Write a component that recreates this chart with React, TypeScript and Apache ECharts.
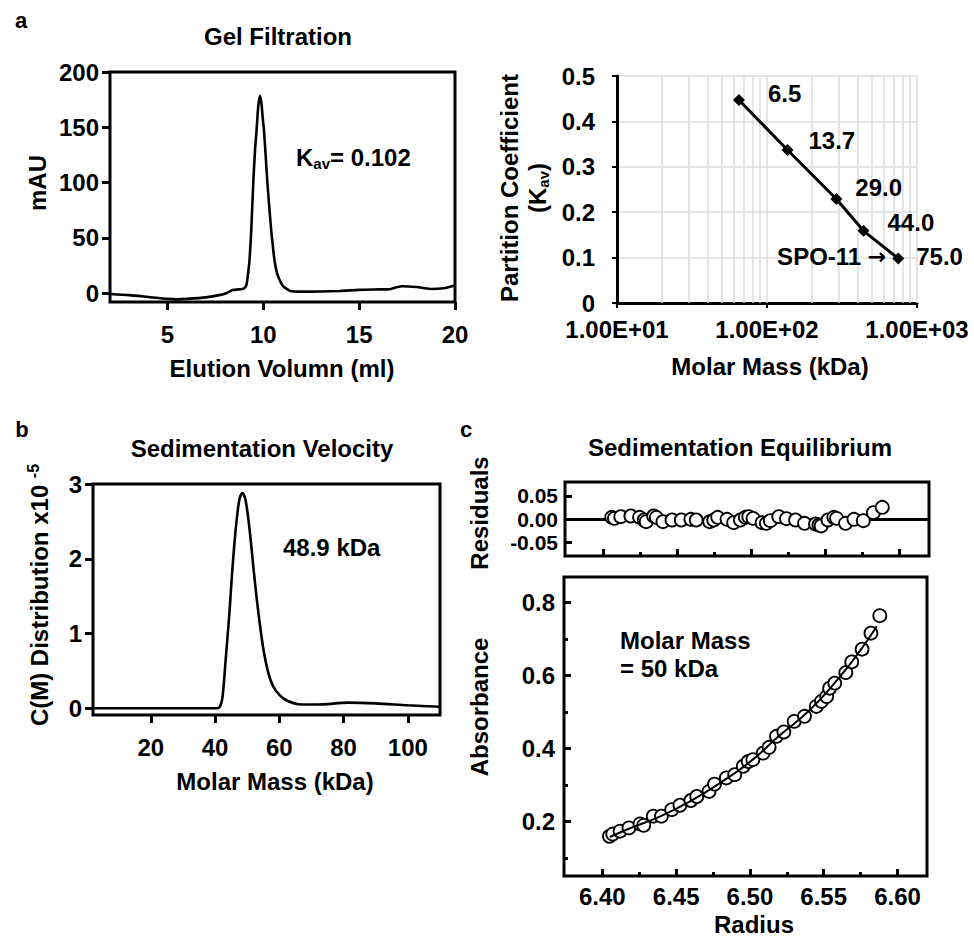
import React, { useEffect, useRef } from "react";
import * as echarts from "echarts";

const FONT = "'Liberation Sans', Arial, Helvetica, sans-serif";

// ---------- Panel a (left): Gel filtration ----------
const gelVolume = [2, 3, 4, 5, 5.5, 6, 7, 7.7, 8.1, 8.4, 8.9, 9.0, 9.1, 9.16, 9.22, 9.28, 9.37, 9.48, 9.57, 9.65, 9.73, 9.82, 9.9, 9.97, 10.03, 10.12, 10.2, 10.3, 10.41, 10.5, 10.58, 10.7, 10.85, 11.0, 11.16, 11.4, 12, 13, 14, 15, 16, 16.6, 17.2, 18, 18.7, 19.4, 20];
const gelMAU = [-0.7, -1.8, -3.5, -5.2, -5.6, -5.2, -3.8, -1.8, 0.2, 2.8, 3.8, 4.5, 6.5, 11.8, 20, 30, 57, 102, 130, 148, 168, 178.5, 172, 158, 148, 125, 103, 80, 57, 42, 30, 19, 11.8, 7, 4.5, 2, 1.4, 1.5, 2, 3, 3.4, 3.6, 6.3, 5.5, 3.8, 4.5, 7];
const gelXTicks = [5, 10, 15, 20];
const gelYTicks = [0, 50, 100, 150, 200];

// ---------- Panel a (right): calibration ----------
const kavMass = [65, 137, 290, 440, 750];
const kavValue = [0.447, 0.337, 0.229, 0.159, 0.098];
const kavLabels = ["6.5", "13.7", "29.0", "44.0", "75.0"];
const kavXTickLabels = ["1.00E+01", "1.00E+02", "1.00E+03"];
const kavGridMasses = [20, 30, 40, 50, 60, 70, 80, 90, 100, 200, 300, 400, 500, 600, 700, 800, 900, 1000];

// ---------- Panel b: Sedimentation velocity ----------
const svMass = [2, 20, 40, 41, 41.5, 42.2, 42.7, 43.2, 43.8, 44.5, 45.2, 46, 46.8, 47.6, 48.5, 49.4, 50.3, 51.2, 52, 53, 54, 55, 56.4, 58, 60, 62.5, 66.8, 72, 81.4, 90, 100, 110];
const svC = [0, 0, 0, 0.005, 0.02, 0.12, 0.32, 0.6, 0.92, 1.3, 1.75, 2.2, 2.55, 2.8, 2.88, 2.8, 2.55, 2.2, 1.85, 1.45, 1.1, 0.8, 0.5, 0.3, 0.18, 0.1, 0.05, 0.05, 0.075, 0.065, 0.04, 0.02];
const svXTicks = [20, 40, 60, 80, 100];
const svYTicks = [0, 1, 2, 3];

// ---------- Panel c: Sedimentation equilibrium ----------
const absRadius = [6.4048, 6.407, 6.412, 6.418, 6.4255, 6.428, 6.4345, 6.44, 6.447, 6.4526, 6.46, 6.464, 6.4723, 6.476, 6.484, 6.4897, 6.4955, 6.4989, 6.502, 6.509, 6.513, 6.518, 6.523, 6.53, 6.537, 6.545, 6.5485, 6.552, 6.554, 6.5575, 6.565, 6.569, 6.576, 6.582, 6.588];
const absValue = [0.159, 0.165, 0.173, 0.182, 0.193, 0.189, 0.214, 0.214, 0.232, 0.244, 0.257, 0.268, 0.282, 0.302, 0.319, 0.328, 0.351, 0.364, 0.369, 0.387, 0.403, 0.433, 0.445, 0.474, 0.488, 0.515, 0.529, 0.542, 0.565, 0.579, 0.608, 0.637, 0.672, 0.716, 0.764];
const fitRadius = [6.405, 6.42, 6.44, 6.46, 6.48, 6.5, 6.52, 6.54, 6.56, 6.575, 6.586];
const fitValue = [0.157, 0.183, 0.215, 0.256, 0.306, 0.363, 0.435, 0.503, 0.592, 0.67, 0.735];
const residRadius = [6.4056, 6.4074, 6.4117, 6.4185, 6.4244, 6.4275, 6.4289, 6.4339, 6.4357, 6.4402, 6.4463, 6.4526, 6.4591, 6.4627, 6.4718, 6.4745, 6.4772, 6.4835, 6.488, 6.4925, 6.4959, 6.4982, 6.5011, 6.5072, 6.5101, 6.5128, 6.5185, 6.5237, 6.5298, 6.5359, 6.5433, 6.5456, 6.5471, 6.5517, 6.5557, 6.5575, 6.5636, 6.5693, 6.5756, 6.5824, 6.5884];
const residValue = [0.0036, 0.0014, 0.005, 0.0065, 0.0036, -0.0022, -0.0058, 0.0065, 0.0036, -0.0058, -0.0022, -0.0022, -0.0007, -0.0022, -0.0058, -0.0022, 0.0036, -0.0007, -0.0079, -0.0022, 0.0036, 0.005, 0.0014, -0.0079, -0.0094, -0.0036, 0.005, 0.0007, -0.0022, -0.0094, -0.0108, -0.013, -0.015, -0.0022, 0.0036, 0.0014, -0.0094, -0.0007, -0.0036, 0.0137, 0.0252];
const radiusMajor = [6.4, 6.45, 6.5, 6.55, 6.6];
const radiusMinor = [6.425, 6.475, 6.525, 6.575];
const residTicks = [-0.05, 0, 0.05];
const absMajor = [0.2, 0.4, 0.6, 0.8];
const absMinor = [0.1, 0.3, 0.5, 0.7];

const zip = (a: number[], b: number[]) => a.map((v, i) => [v, b[i]]);

const labelStyle = { color: "#000", fontFamily: FONT, fontWeight: "bold" as const, fontSize: 24, textBorderWidth: 0 };
const residLabelStyle = { ...labelStyle, fontSize: 21, lineHeight: 21 };
const tickLine = { color: "#000", width: 3 };

function txt(x: number, y: number, text: string, opts: any = {}) {
  return {
    type: "text",
    x,
    y,
    rotation: opts.rotation || 0,
    style: {
      text,
      fill: "#000",
      fontFamily: FONT,
      fontWeight: "bold",
      fontSize: opts.fontSize || 24,
      align: opts.align || "center",
      verticalAlign: "middle",
      rich: opts.rich,
    },
  };
}

function buildOption(): any {
  const RMIN = 6.374;
  const RMAX = 6.62;
  const boxed = { show: true, borderColor: "#000", borderWidth: 3, backgroundColor: "transparent", outerBoundsMode: "none" };

  const richSub = {
    k: { fontFamily: FONT, fontWeight: "bold", fontSize: 24, lineHeight: 28, color: "#000" },
    s: { fontFamily: FONT, fontWeight: "bold", fontSize: 15, lineHeight: 14, verticalAlign: "bottom", color: "#000" },
  };
  const richSup = {
    k: { fontFamily: FONT, fontWeight: "bold", fontSize: 24, lineHeight: 28, color: "#000" },
    p: { fontFamily: FONT, fontWeight: "bold", fontSize: 16, lineHeight: 14, verticalAlign: "top", color: "#000" },
  };

  // one axis per residual label, so that the tightly packed labels are all kept
  const residLabelAxis = (v: number) => ({
    gridIndex: 3, type: "value", min: -0.08, max: 0.08, position: "left",
    axisLine: { show: false, onZero: false },
    axisTick: { show: false },
    axisLabel: { ...residLabelStyle, customValues: [v], margin: 7, formatter: (x: number) => x.toFixed(2) },
    splitLine: { show: false },
  });

  return {
    animation: false,
    backgroundColor: "#fff",
    grid: [
      { left: 110, top: 72, width: 345, height: 230, ...boxed },
      { left: 617, top: 76, width: 300, height: 227, show: false, outerBoundsMode: "none" },
      { left: 93, top: 484, width: 347, height: 231, ...boxed },
      { left: 565, top: 482, width: 364, height: 74, ...boxed },
      { left: 564, top: 577, width: 363, height: 299, ...boxed },
    ],
    xAxis: [
      {
        gridIndex: 0, type: "value", min: 2, max: 20,
        axisLine: { show: false, onZero: false },
        axisTick: { show: true, customValues: gelXTicks, length: 8, lineStyle: tickLine },
        axisLabel: { ...labelStyle, customValues: gelXTicks, margin: 20 },
        splitLine: { show: false },
      },
      {
        gridIndex: 1, type: "log", logBase: 10, min: 10, max: 1000,
        axisLine: { show: true, onZero: false, lineStyle: tickLine },
        axisTick: { show: true, length: 5, lineStyle: { color: "#000", width: 2 } },
        axisLabel: {
          ...labelStyle, margin: 14,
          formatter: (v: number) => kavXTickLabels[Math.round(Math.log10(v)) - 1] || "",
        },
        splitLine: { show: false },
      },
      {
        gridIndex: 2, type: "value", min: 2, max: 110,
        axisLine: { show: false, onZero: false },
        axisTick: { show: true, customValues: svXTicks, length: 8, lineStyle: tickLine },
        axisLabel: { ...labelStyle, customValues: svXTicks, margin: 20 },
        splitLine: { show: false },
      },
      {
        gridIndex: 3, type: "value", min: RMIN, max: RMAX, position: "bottom",
        axisLine: { show: false, onZero: false },
        axisTick: { show: true, inside: true, customValues: radiusMajor, length: 7, lineStyle: tickLine },
        axisLabel: { show: false },
        splitLine: { show: false },
      },
      {
        gridIndex: 3, type: "value", min: RMIN, max: RMAX, position: "bottom",
        axisLine: { show: false, onZero: false },
        axisTick: { show: true, inside: true, customValues: radiusMinor, length: 4, lineStyle: tickLine },
        axisLabel: { show: false },
        splitLine: { show: false },
      },
      {
        gridIndex: 4, type: "value", min: RMIN, max: RMAX, position: "bottom",
        axisLine: { show: false, onZero: false },
        axisTick: { show: true, inside: true, customValues: radiusMajor, length: 7, lineStyle: tickLine },
        axisLabel: { ...labelStyle, customValues: radiusMajor, margin: 8, formatter: (v: number) => v.toFixed(2) },
        splitLine: { show: false },
      },
      {
        gridIndex: 4, type: "value", min: RMIN, max: RMAX, position: "bottom",
        axisLine: { show: false, onZero: false },
        axisTick: { show: true, inside: true, customValues: radiusMinor, length: 4, lineStyle: tickLine },
        axisLabel: { show: false },
        splitLine: { show: false },
      },
    ],
    yAxis: [
      {
        gridIndex: 0, type: "value", min: -8, max: 200,
        axisLine: { show: false, onZero: false },
        axisTick: { show: true, customValues: gelYTicks, length: 8, lineStyle: tickLine },
        axisLabel: { ...labelStyle, customValues: gelYTicks, margin: 11 },
        splitLine: { show: false },
      },
      {
        gridIndex: 1, type: "value", min: 0, max: 0.5, interval: 0.1,
        axisLine: { show: true, onZero: false, lineStyle: tickLine },
        axisTick: { show: true, length: 5, lineStyle: { color: "#000", width: 2 } },
        axisLabel: { ...labelStyle, margin: 22 },
        splitLine: { show: true, lineStyle: { color: "#dcdcdc", width: 1.5 } },
      },
      {
        gridIndex: 2, type: "value", min: -0.09, max: 3,
        axisLine: { show: false, onZero: false },
        axisTick: { show: true, customValues: svYTicks, length: 8, lineStyle: tickLine },
        axisLabel: { ...labelStyle, customValues: svYTicks, margin: 11 },
        splitLine: { show: false },
      },
      {
        gridIndex: 3, type: "value", min: -0.08, max: 0.08,
        axisLine: { show: false, onZero: false },
        axisTick: { show: true, inside: true, customValues: residTicks, length: 7, lineStyle: tickLine },
        axisLabel: { ...residLabelStyle, customValues: [residTicks[1]], margin: 7, formatter: (v: number) => v.toFixed(2) },
        splitLine: { show: false },
      },
      {
        gridIndex: 4, type: "value", min: 0.05, max: 0.87,
        axisLine: { show: false, onZero: false },
        axisTick: { show: true, inside: true, customValues: absMajor, length: 7, lineStyle: tickLine },
        axisLabel: { ...labelStyle, customValues: absMajor, margin: 9, formatter: (v: number) => v.toFixed(1) },
        splitLine: { show: false },
      },
      {
        gridIndex: 4, type: "value", min: 0.05, max: 0.87, position: "left",
        axisLine: { show: false, onZero: false },
        axisTick: { show: true, inside: true, customValues: absMinor, length: 4, lineStyle: tickLine },
        axisLabel: { show: false },
        splitLine: { show: false },
      },
      residLabelAxis(residTicks[2]),
      residLabelAxis(residTicks[0]),
    ],
    series: [
      {
        type: "line", xAxisIndex: 0, yAxisIndex: 0,
        data: zip(gelVolume, gelMAU),
        showSymbol: false, smooth: 0.2,
        lineStyle: { color: "#000", width: 2.6 },
        silent: true, z: 3,
      },
      {
        type: "line", xAxisIndex: 1, yAxisIndex: 1,
        data: zip(kavMass, kavValue),
        showSymbol: false, lineStyle: { opacity: 0 }, silent: true, z: 1,
        markLine: {
          z: 1, silent: true, symbol: "none", label: { show: false },
          lineStyle: { color: "#dcdcdc", width: 1.5, type: "solid" },
          data: kavGridMasses.map((m) => ({ xAxis: m })),
        },
      },
      {
        type: "line", xAxisIndex: 1, yAxisIndex: 1,
        data: zip(kavMass, kavValue),
        symbol: "diamond", symbolSize: 12,
        itemStyle: { color: "#000", opacity: 1 },
        lineStyle: { color: "#000", width: 3 },
        z: 6, silent: true,
        label: {
          show: true, position: "right",
          formatter: (p: any) => kavLabels[p.dataIndex],
          ...labelStyle,
        },
        labelLayout: (p: any) => {
          const offs = [[18, -7], [10, -10], [8, -12], [13, -8], [7, -2]];
          const o = offs[p.dataIndex];
          return { dx: o[0], dy: o[1] };
        },
      },
      {
        type: "scatter", xAxisIndex: 1, yAxisIndex: 1,
        data: [[kavMass[4], kavValue[4]]],
        symbolSize: 12, itemStyle: { color: "transparent", opacity: 1 },
        label: {
          show: true, position: "left", distance: 4, opacity: 1,
          formatter: "{t|SPO-11 }{a|→}",
          rich: {
            t: { color: "#000", fontFamily: FONT, fontWeight: "bold", fontSize: 24 },
            a: { color: "#000", fontFamily: "'DejaVu Sans', sans-serif", fontWeight: "bold", fontSize: 22 },
          },
        },
        labelLayout: { dx: -2, dy: -2 },
        z: 6, silent: true,
      },
      {
        type: "line", xAxisIndex: 2, yAxisIndex: 2,
        data: zip(svMass, svC),
        showSymbol: false, smooth: 0.3,
        lineStyle: { color: "#000", width: 2.6 },
        silent: true, z: 3,
      },
      {
        type: "line", xAxisIndex: 3, yAxisIndex: 3,
        data: zip(residRadius, residValue),
        showSymbol: false, lineStyle: { opacity: 0 }, silent: true, z: 1,
        markLine: {
          z: 1, silent: true, symbol: "none", label: { show: false },
          lineStyle: { color: "#000", width: 3, type: "solid" },
          data: [{ yAxis: 0 }],
        },
      },
      {
        type: "scatter", xAxisIndex: 3, yAxisIndex: 3,
        data: zip(residRadius, residValue),
        symbol: "circle", symbolSize: 13,
        itemStyle: { color: "#fff", borderColor: "#000", borderWidth: 1.8, opacity: 1 },
        z: 5, silent: true,
      },
      {
        type: "scatter", xAxisIndex: 5, yAxisIndex: 4,
        data: zip(absRadius, absValue),
        symbol: "circle", symbolSize: 13,
        itemStyle: { color: "#fff", borderColor: "#000", borderWidth: 1.8, opacity: 1 },
        z: 3, silent: true,
      },
      {
        type: "line", xAxisIndex: 5, yAxisIndex: 4,
        data: zip(fitRadius, fitValue),
        showSymbol: false, smooth: true,
        lineStyle: { color: "#000", width: 2 },
        z: 4, silent: true,
      },
    ],
    graphic: [
      txt(21, 20, "a", { fontSize: 22 }),
      txt(22, 429, "b", { fontSize: 22 }),
      txt(466, 429, "c", { fontSize: 22 }),
      txt(278, 36, "Gel Filtration"),
      txt(262, 448, "Sedimentation Velocity"),
      txt(740, 447, "Sedimentation Equilibrium"),
      txt(37, 183, "mAU", { rotation: Math.PI / 2 }),
      txt(282, 368, "Elution Volumn (ml)"),
      txt(296, 157, "{k|K}{s|av}{k|= 0.102}", { align: "left", rich: richSub }),
      txt(509, 188, "Partition Coefficient", { rotation: Math.PI / 2 }),
      txt(537, 188, "{k|(K}{s|av}{k|)}", { rotation: Math.PI / 2, rich: richSub }),
      txt(770, 366, "Molar Mass (kDa)"),
      txt(39, 595, "{k|C(M) Distribution x10 }{p|-5}", { rotation: Math.PI / 2, rich: richSup }),
      txt(275, 781, "Molar Mass (kDa)"),
      txt(283, 547, "48.9 kDa", { align: "left" }),
      txt(479, 513, "Residuals", { rotation: Math.PI / 2 }),
      txt(479, 707, "Absorbance", { rotation: Math.PI / 2 }),
      txt(620, 640, "Molar Mass", { align: "left" }),
      txt(620, 668, "= 50 kDa", { align: "left" }),
      txt(754, 924, "Radius"),
    ],
  };
}

export default function App() {
  const ref = useRef<HTMLDivElement>(null);
  useEffect(() => {
    const chart = echarts.init(ref.current!, null, { renderer: "svg" });
    chart.setOption(buildOption());
    return () => chart.dispose();
  }, []);
  return (
    <div
      ref={ref}
      style={{ position: "absolute", left: 0, top: 0, width: 974, height: 938, background: "#fff" }}
    />
  );
}
